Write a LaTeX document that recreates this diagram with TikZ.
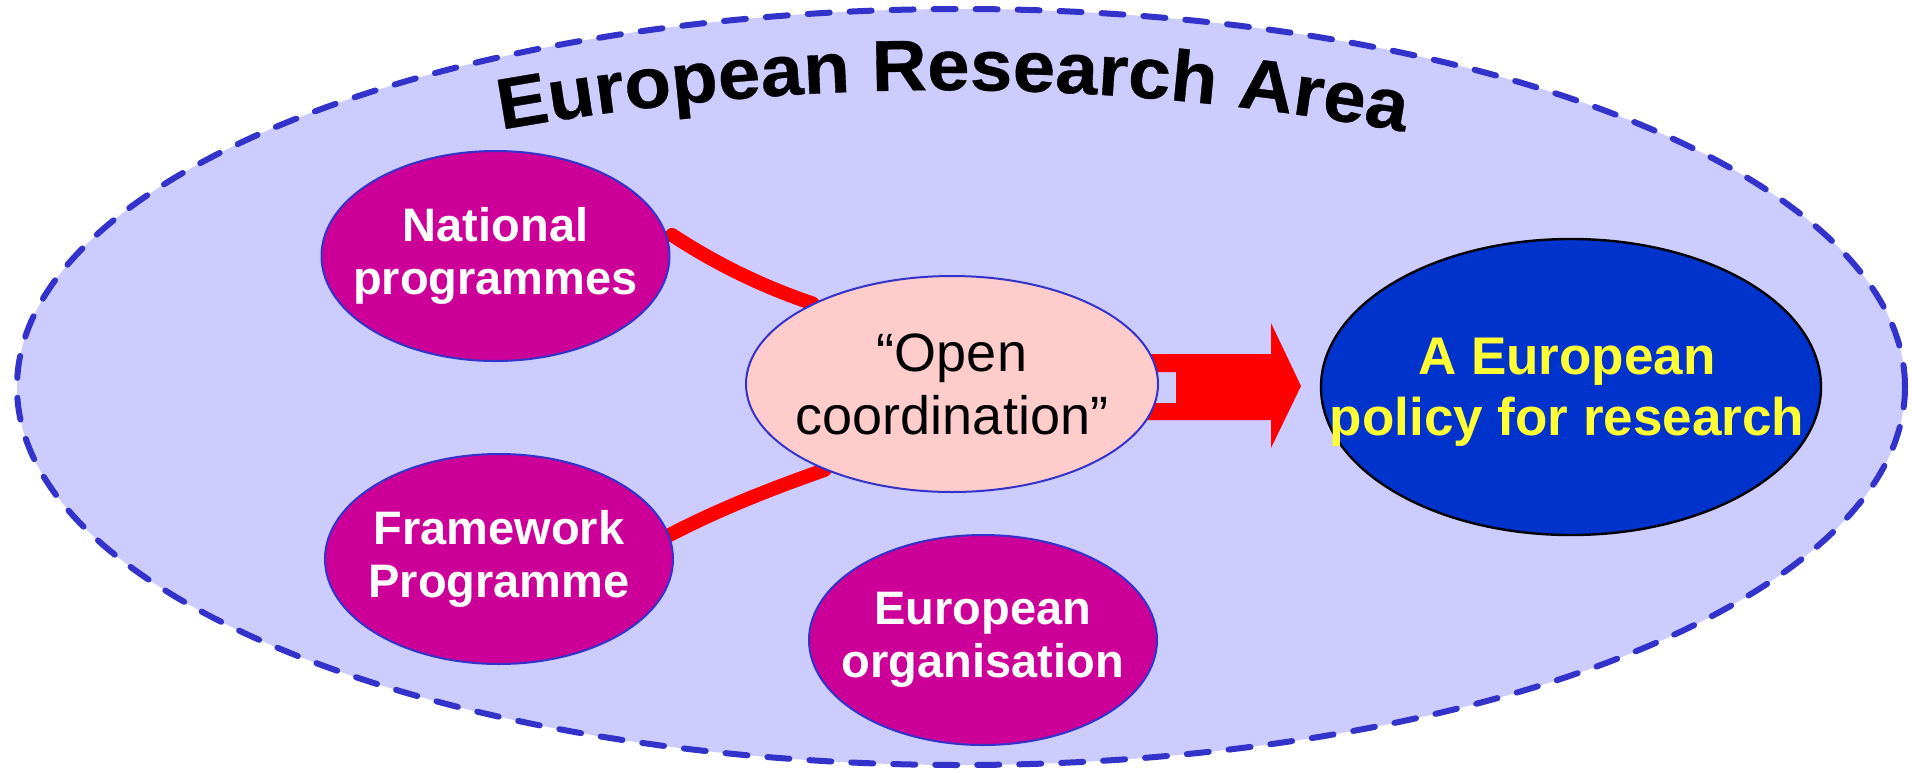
\documentclass[tikz,border=0pt]{standalone}
\usepackage{fontspec}
\setmainfont{Liberation Sans}
\newfontfamily\titlefont{Liberation Sans Bold}[FakeBold=0.5,FakeStretch=1.06]
\usetikzlibrary{shapes.geometric,decorations.text,calc}

\definecolor{areafill}{HTML}{CCCCFF}
\definecolor{arealine}{HTML}{3333CC}
\definecolor{progfill}{HTML}{CC0099}
\definecolor{coordfill}{HTML}{FFCCCC}
\definecolor{policyfill}{HTML}{0033CC}
\definecolor{policytext}{HTML}{FFFF33}
\definecolor{linkred}{HTML}{FF0000}

\pgfdeclarelayer{back}
\pgfdeclarelayer{links}
\pgfsetlayers{back,links,main}

\tikzset{
  area/.style={ellipse, inner sep=0pt, fill=areafill, draw=arealine,
    line width=3pt, dash pattern=on 11pt off 10pt, line cap=round,
    minimum width=944pt, minimum height=378pt},
  prog/.style={ellipse, inner sep=0pt, fill=progfill, draw=arealine,
    line width=1pt, minimum width=174pt, minimum height=105pt},
  progtext/.style={inner sep=0pt, text=white, align=center,
    font=\bfseries\fontsize{23.5}{26.5}\selectfont},
  coord/.style={ellipse, inner sep=0pt, fill=coordfill, draw=arealine,
    line width=1pt, minimum width=206pt, minimum height=108pt},
  coordtext/.style={inner sep=0pt, text=black, align=center,
    font=\fontsize{27}{31.5}\selectfont},
  policy/.style={ellipse, inner sep=0pt, fill=policyfill, draw=black,
    line width=1.2pt, minimum width=250pt, minimum height=148pt},
  policytxt/.style={inner sep=0pt, text=policytext, align=center,
    text depth=0pt, font=\bfseries\fontsize{26.5}{30.5}\selectfont},
  link/.style={draw=linkred, line width=7pt, line cap=round},
  blockarrow/.style={fill=linkred, draw=none}
}

\begin{document}
\begin{tikzpicture}[x=0.5pt,y=-0.5pt]
\useasboundingbox (0,0) rectangle (1912,772);

% the research area
\begin{pgfonlayer}{back}
  \node[area] (era) at (961,387) {};
\end{pgfonlayer}

% programmes, coordination and the resulting policy
\node[prog] (nat) at (495.5,256) {};
\node[progtext] (natT) at (nat.center) {National\\programmes};
\node[prog] (fw) at (499,559) {};
\node[progtext] (fwT) at (fw.center) {Framework\\Programme};
\node[prog] (eo) at (983,640) {};
\node[progtext] (eoT) at (eo.center) {European\\organisation};
\node[coord] (oc) at (952,384) {};
\node[coordtext] (ocT) at (oc.center) {“Open\\coordination”};
\node[policy] (pol) at (1571,387) {};
\node[policytxt] (polT) at ($(pol.center)+(-4,0)$) {A European\\policy for research};

% links into the open coordination, and the arrow towards the policy
\begin{pgfonlayer}{links}
  \draw[link] ($(nat.7)+(5,0)$) .. controls +(44,29) and +(-50,-17) .. (oc.150);
  \draw[link] (fw.8) .. controls +(50,-26) and +(-54,19) .. (oc.214);
  \begin{scope}[shift={(oc.east)}]
    \fill[blockarrow] (-18,-30) -- (112,-30) -- (112,-61) -- (142,2)
      -- (112,64) -- (112,36) -- (-18,36) -- (-18,19) -- (17,19)
      -- (17,-12) -- (-18,-12) -- cycle;
  \end{scope}
\end{pgfonlayer}

% arched title
\path[decorate, decoration={text along path, text align=center,
    text={|\titlefont\fontsize{36}{40}\selectfont|European Research Area}}]
  (500,130) .. controls (803,76) and (1103,77) .. (1405,132);
\end{tikzpicture}
\end{document}
